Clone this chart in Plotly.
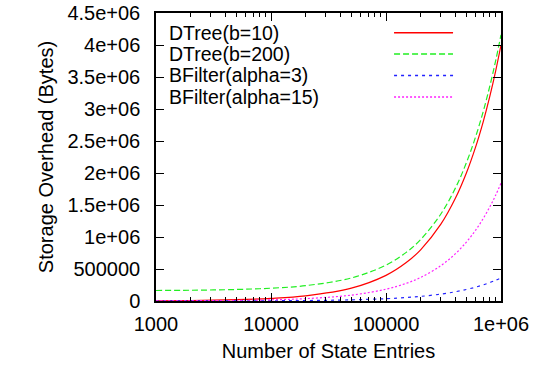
import plotly.graph_objects as go

entries = [1000, 2000, 5000, 10000, 20000, 50000, 100000, 150000, 200000, 300000,
           400000, 500000, 600000, 700000, 800000, 900000, 1000000]
dtree_b10 = [4000, 8000, 20000, 40000, 80000, 200000, 400000, 600000, 800000, 1200000,
             1600000, 2000000, 2400000, 2800000, 3200000, 3600000, 4000000]
dtree_b200 = [164000, 168000, 180000, 200000, 240000, 360000, 560000, 760000, 960000, 1360000,
              1760000, 2160000, 2560000, 2960000, 3360000, 3760000, 4160000]
bfilter_a3 = [360, 720, 1800, 3600, 7200, 18000, 36000, 54000, 72000, 108000,
              144000, 180000, 216000, 252000, 288000, 324000, 360000]
bfilter_a15 = [1840, 3680, 9200, 18400, 36800, 92000, 184000, 276000, 368000, 552000,
               736000, 920000, 1104000, 1288000, 1472000, 1656000, 1840000]

series_names = ["DTree(b=10)", "DTree(b=200)", "BFilter(alpha=3)", "BFilter(alpha=15)"]
series_vals = [dtree_b10, dtree_b200, bfilter_a3, bfilter_a15]
colors = ["#ff0000", "#22ee22", "#2222ff", "#ff22ff"]
dashes = ["solid", "6px,3px", "3px,4px", "2px,2px"]

xtick_vals = [1000, 10000, 100000, 1000000]
xtick_text = ["1000", "10000", "100000", "1e+06"]
ytick_vals = [0, 500000, 1000000, 1500000, 2000000, 2500000, 3000000, 3500000, 4000000, 4500000]
ytick_text = ["0", "500000", "1e+06", "1.5e+06", "2e+06", "2.5e+06", "3e+06", "3.5e+06", "4e+06", "4.5e+06"]

FONT = "Liberation Sans, Arial, sans-serif"
FS = 20

fig = go.Figure()
for name, vals, c, d in zip(series_names, series_vals, colors, dashes):
    fig.add_trace(go.Scatter(x=entries, y=vals, mode="lines", name=name,
                             line=dict(color=c, width=1.2, dash=d, shape="spline"),
                             showlegend=False))

# gnuplot-style legend: text on left, sample line on right
annotations = []
shapes = []
row_y = [0.931, 0.858, 0.783, 0.708]
for i, (name, c, d) in enumerate(zip(series_names, colors, dashes)):
    annotations.append(dict(x=0.033, y=row_y[i], xref="paper", yref="paper", text=name,
                            showarrow=False, xanchor="left", yanchor="middle",
                            font=dict(family=FONT, size=19.5, color="black")))
    shapes.append(dict(type="line", xref="paper", yref="paper",
                       x0=0.690, x1=0.861, y0=row_y[i], y1=row_y[i],
                       line=dict(color=c, width=1.5, dash=d)))

fig.update_layout(
    width=533, height=367,
    margin=dict(l=156, r=32, t=13, b=66),
    paper_bgcolor="white", plot_bgcolor="white",
    font=dict(family=FONT, size=FS, color="black"),
    annotations=annotations, shapes=shapes,
    showlegend=False,
)
fig.update_xaxes(type="log", range=[3, 6], tickvals=xtick_vals, ticktext=xtick_text,
                 automargin=False,
                 ticks="inside", ticklen=8, tickwidth=1, tickcolor="black",
                 showline=True, linecolor="black", linewidth=1.5, mirror="ticks",
                 showgrid=False, zeroline=False, ticklabelstandoff=4,
                 minor=dict(ticks="inside", ticklen=4, tickcolor="black", dtick="D1", showgrid=False),
                 title=dict(text="Number of State Entries", font=dict(size=FS), standoff=10),
                 tickfont=dict(size=FS))
fig.update_yaxes(range=[0, 4500000], tickvals=ytick_vals, ticktext=ytick_text,
                 automargin=False,
                 ticks="inside", ticklen=8, tickwidth=1, tickcolor="black",
                 showline=True, linecolor="black", linewidth=1.5, mirror="ticks",
                 showgrid=False, zeroline=False, ticklabelstandoff=10,
                 title=dict(text="Storage Overhead (Bytes)", font=dict(size=FS), standoff=8),
                 tickfont=dict(size=FS))

fig.write_html("out.html")
